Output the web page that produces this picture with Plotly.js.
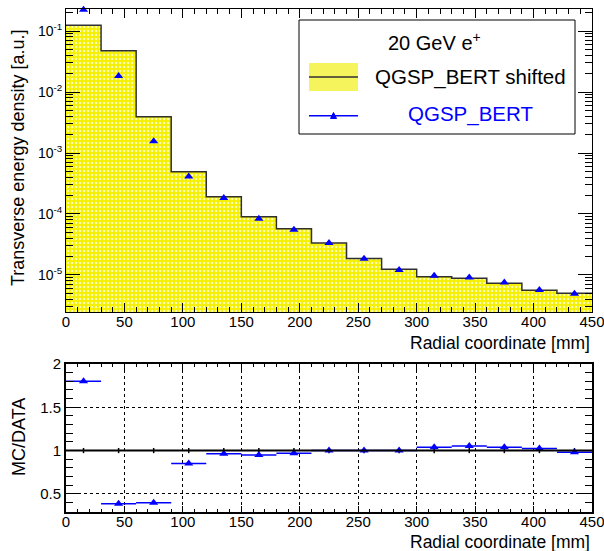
<!DOCTYPE html>
<html>
<head>
<meta charset="utf-8">
<script src="https://cdn.plot.ly/plotly-3.0.1.min.js"></script>
<style>html,body{margin:0;padding:0;background:#fff;}#chart{width:604px;height:551px;}</style>
</head>
<body>
<div id="chart"></div>
<script>
// ---- data ----
var binEdges = [0,30,60,90,120,150,180,210,240,270,300,330,360,390,420,450];
var binCenters = [15,45,75,105,135,165,195,225,255,285,315,345,375,405,435];
var shiftedMC = [0.124,0.0475,0.00394,4.93e-4,1.92e-4,9.03e-5,5.74e-5,3.35e-5,1.87e-5,1.24e-5,9.37e-6,8.82e-6,7.31e-6,5.61e-6,5.01e-6];
var qgspBert = [0.223,0.0183,1.56e-3,4.13e-4,1.83e-4,8.37e-5,5.53e-5,3.35e-5,1.84e-5,1.21e-5,9.74e-6,9.1e-6,7.5e-6,5.67e-6,4.9e-6];
var ratio = [1.80,0.385,0.397,0.85,0.962,0.95,0.97,1.0,1.0,1.0,1.039,1.054,1.039,1.023,0.98];
var ratioXErr = [15,15,15,15,15,15,15,15,15,15,15,15,15,15,15];
var dataRatio = [1,1,1,1,1,1,1,1,1,1,1,1,1,1,1];
var dataRatioErr = [0.03,0.03,0.03,0.03,0.03,0.03,0.03,0.03,0.03,0.03,0.03,0.03,0.03,0.03,0.03];
var xTicks = [0,50,100,150,200,250,300,350,400,450];
var logTickVals = [1e-5,1e-4,1e-3,1e-2,1e-1];
var logTickText = ['10<sup>-5</sup>','10<sup>-4</sup>','10<sup>-3</sup>','10<sup>-2</sup>','10<sup>-1</sup>'];
var ratioTicks = [0.5,1,1.5,2];

// ---- geometry helpers (pixel -> paper) ----
var W=604,H=551,ML=66,MR=12,MT=9,MB=39;
var PW=W-ML-MR, PH=H-MT-MB;
function px(x){return (x-ML)/PW;}
function py(y){return (H-MB-y)/PH;}

// step outline from histogram arrays
var stepY = shiftedMC.concat([shiftedMC[shiftedMC.length-1]]);

// minor log ticks
var minorLog=[];
for (var e=-6;e<=-1;e++){for(var d=2;d<=9;d++){minorLog.push(d*Math.pow(10,e));}}

var blue='#0000ff';
var FONT='Liberation Sans, Arial, Helvetica, sans-serif';

var traces = [
  {type:'bar', x:binCenters, y:shiftedMC, width:30, xaxis:'x', yaxis:'y',
   marker:{color:'#f6f45c', line:{width:0},
     pattern:{shape:'.', fgcolor:'#ffffb0', bgcolor:'#f4f000', size:4, solidity:0.3, fillmode:'replace'}},
   showlegend:false, hoverinfo:'skip'},
  {type:'scatter', mode:'lines', x:binEdges, y:stepY, xaxis:'x', yaxis:'y',
   line:{shape:'hv', color:'#303030', width:1.5}, showlegend:false, cliponaxis:false},
  {type:'scatter', mode:'markers', x:binCenters, y:qgspBert, xaxis:'x', yaxis:'y',
   marker:{symbol:'triangle-up', size:8, color:blue}, showlegend:false, cliponaxis:false},
  {type:'scatter', mode:'markers', x:binCenters, y:dataRatio, xaxis:'x2', yaxis:'y2',
   marker:{size:1, color:'rgba(0,0,0,0)'},
   error_y:{type:'data', array:dataRatioErr, visible:true, color:'#000', thickness:1.5, width:0},
   showlegend:false},
  {type:'scatter', mode:'markers', x:binCenters, y:ratio, xaxis:'x2', yaxis:'y2',
   marker:{symbol:'triangle-up', size:8, color:blue},
   error_x:{type:'data', array:ratioXErr, visible:true, color:blue, thickness:1.5, width:0},
   showlegend:false, cliponaxis:false}
];

var tickFont = {family:FONT, size:15, color:'#000'};

var layout = {
  width:W, height:H,
  margin:{l:ML, r:MR, t:MT, b:MB, pad:0},
  paper_bgcolor:'#fff', plot_bgcolor:'#fff',
  font:{family:FONT, color:'#000'},
  showlegend:false,
  bargap:0,
  xaxis:{domain:[0,1], range:[0,450], anchor:'y',
    tickmode:'array', tickvals:xTicks, ticks:'inside', ticklen:9, tickcolor:'#000', tickwidth:1,
    minor:{tickmode:'linear', tick0:0, dtick:10, ticks:'inside', ticklen:5, tickcolor:'#000', showgrid:false},
    showline:true, linecolor:'#000', linewidth:1, mirror:'allticks',
    showgrid:false, zeroline:false, tickfont:tickFont, ticklabeloverflow:'allow', ticklabelstandoff:-4},
  yaxis:{domain:[py(312),1], type:'log', range:[Math.log10(2.47e-6), Math.log10(0.23)], anchor:'x',
    tickmode:'array', tickvals:logTickVals, ticktext:logTickText, ticks:'inside', ticklen:14, tickcolor:'#000',
    minor:{tickmode:'array', tickvals:minorLog, ticks:'inside', ticklen:7, tickcolor:'#000', showgrid:false},
    showline:true, linecolor:'#000', linewidth:1, mirror:'allticks',
    showgrid:false, zeroline:false, tickfont:{family:FONT, size:14, color:'#000'}},
  xaxis2:{domain:[0,1], range:[0,450], anchor:'y2',
    tickmode:'array', tickvals:xTicks, ticks:'inside', ticklen:6, tickcolor:'#000',
    minor:{tickmode:'linear', tick0:0, dtick:10, ticks:'inside', ticklen:3, tickcolor:'#000', showgrid:false},
    showline:true, linecolor:'#000', linewidth:2, mirror:'allticks',
    showgrid:true, gridcolor:'#000', griddash:'dot', gridwidth:1,
    zeroline:false, tickfont:tickFont, ticklabeloverflow:'allow', ticklabelstandoff:-5},
  yaxis2:{domain:[0,py(364)], range:[0.29,2.0], anchor:'x2',
    tickmode:'array', tickvals:ratioTicks, ticks:'inside', ticklen:14, tickcolor:'#000',
    minor:{tickmode:'linear', tick0:0, dtick:0.1, ticks:'inside', ticklen:7, tickcolor:'#000', showgrid:false},
    showline:true, linecolor:'#000', linewidth:2, mirror:'allticks',
    showgrid:true, gridcolor:'#000', griddash:'dot', gridwidth:1,
    zeroline:false, tickfont:tickFont},
  shapes:[
    {type:'line', xref:'x2', yref:'y2', x0:0, x1:450, y0:1, y1:1, line:{color:'#000', width:2}},
    // legend box
    {type:'rect', xref:'paper', yref:'paper', x0:px(299), x1:px(575), y0:py(134), y1:py(20),
     fillcolor:'#fff', line:{color:'#000', width:1}},
    {type:'rect', xref:'paper', yref:'paper', x0:px(309), x1:px(358), y0:py(91), y1:py(63),
     fillcolor:'#f6f45c', line:{width:0}},
    {type:'line', xref:'paper', yref:'paper', x0:px(309), x1:px(358), y0:py(77), y1:py(77),
     line:{color:'#303030', width:1.5}},
    {type:'line', xref:'paper', yref:'paper', x0:px(309), x1:px(358), y0:py(115.7), y1:py(115.7),
     line:{color:blue, width:1.5}},
    {type:'path', xref:'paper', yref:'paper',
     path:'M '+px(330.5)+' '+py(118.5)+' L '+px(336.5)+' '+py(118.5)+' L '+px(333.5)+' '+py(112.5)+' Z',
     fillcolor:blue, line:{color:blue, width:1}}
  ],
  annotations:[
    {xref:'paper', yref:'paper', x:px(434), y:py(41.5), text:'20 GeV e<sup>+</sup>', showarrow:false,
     xanchor:'center', yanchor:'middle', font:{family:FONT, size:20, color:'#000'}},
    {xref:'paper', yref:'paper', x:px(373), y:py(77), text:'QGSP_BERT shifted', showarrow:false,
     xanchor:'left', yanchor:'middle', font:{family:FONT, size:20.5, color:'#000'}},
    {xref:'paper', yref:'paper', x:px(470.7), y:py(114), text:'QGSP_BERT', showarrow:false,
     xanchor:'center', yanchor:'middle', font:{family:FONT, size:20.5, color:blue}},
    {xref:'paper', yref:'paper', x:1, y:py(343), text:'Radial coordinate [mm]', showarrow:false,
     xanchor:'right', yanchor:'middle', font:{family:FONT, size:17.5, color:'#000'}},
    {xref:'paper', yref:'paper', x:1, y:py(542), text:'Radial coordinate [mm]', showarrow:false,
     xanchor:'right', yanchor:'middle', font:{family:FONT, size:17.5, color:'#000'}},
    {xref:'paper', yref:'paper', x:px(18), y:py(158), text:'Transverse energy density [a.u.]', showarrow:false,
     textangle:-90, xanchor:'center', yanchor:'middle', font:{family:FONT, size:18, color:'#000'}},
    {xref:'paper', yref:'paper', x:px(19), y:py(437), text:'MC/DATA', showarrow:false,
     textangle:-90, xanchor:'center', yanchor:'middle', font:{family:FONT, size:18, color:'#000'}}
  ]
};

Plotly.newPlot('chart', traces, layout, {displayModeBar:false, staticPlot:true});
</script>
</body>
</html>
